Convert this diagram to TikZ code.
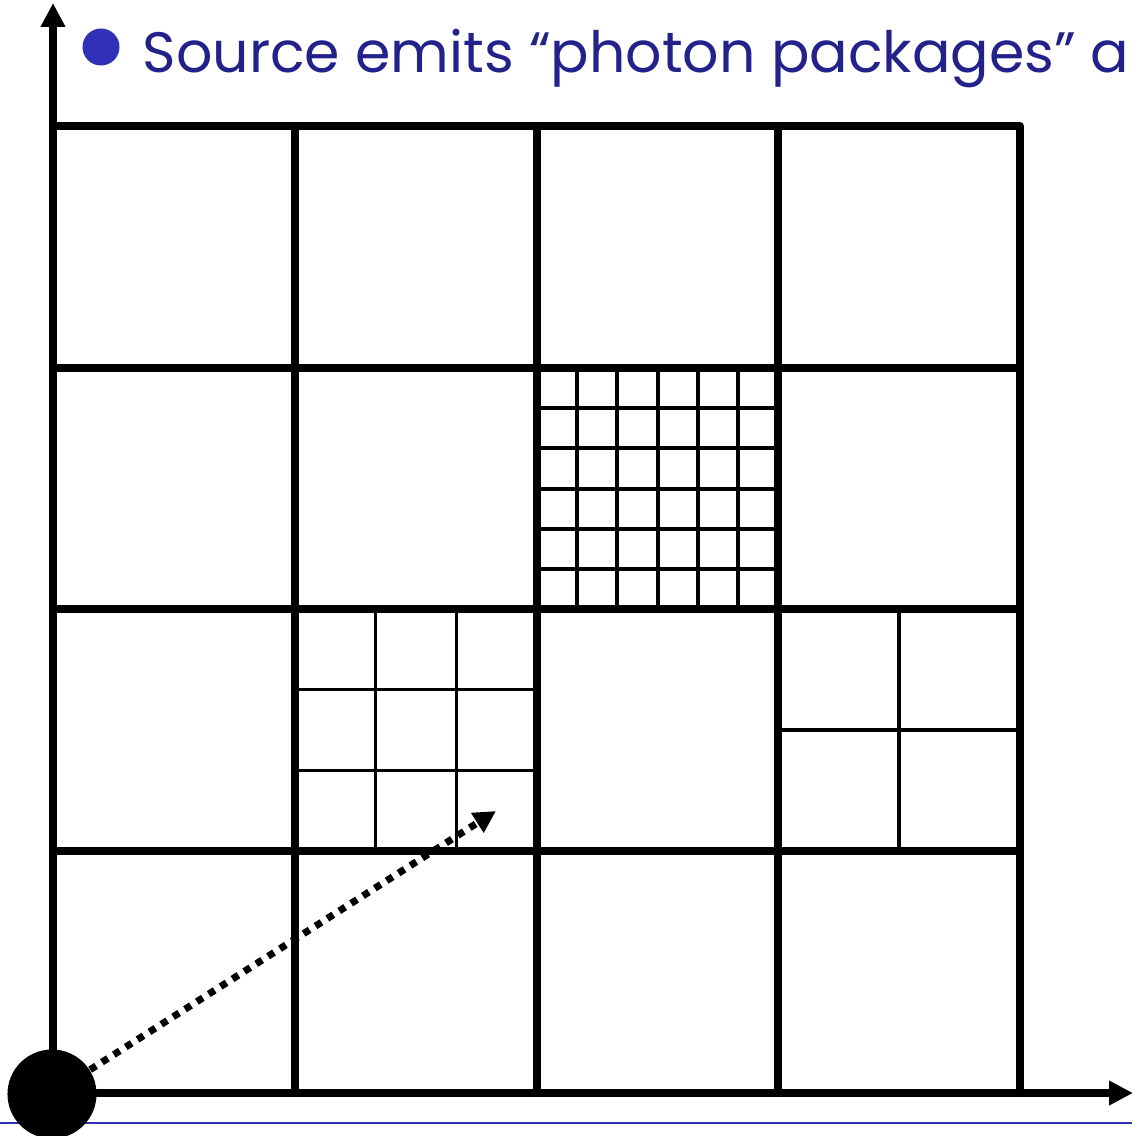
\documentclass[tikz,border=0pt]{standalone}
\usepackage{fontspec}
\setmainfont{Poppins}
\usetikzlibrary{arrows.meta,positioning}
\definecolor{TitleBlue}{RGB}{34,34,138}
\definecolor{BulletBlue}{RGB}{48,48,184}
\definecolor{RuleBlue}{RGB}{48,48,176}

\begin{document}
\begin{tikzpicture}[x=0.01cm,y=-0.01cm,
  coarse/.style={line width=2.2pt,line join=round},
  medium/.style={line width=1.1pt},
  finer/.style={line width=1.0pt},
  axis/.style={line width=2.2pt,-{Triangle[length=6.8pt,width=6.6pt]}},
  ray/.style={line width=2pt,dash pattern=on 2pt off 2pt,
              -{Triangle[length=6.3pt,width=6.3pt]}},
  bullet/.style={circle,fill=BulletBlue,minimum size=0.37cm,inner sep=0pt},
  title/.style={text=TitleBlue,font=\fontsize{16.2}{19}\selectfont,inner sep=0pt}]
\useasboundingbox (0,0) rectangle (1132,1136);
\clip (0,0) rectangle (1132,1136);

% heading
\node[bullet] (dot) at (101,47) {};
\node[title,anchor=base west] (head) at (142,72) {Source emits “photon packages” a};

% rule at the bottom
\coordinate (ruleL) at (0,1123);
\coordinate (ruleR) at (1132,1123);
\draw[RuleBlue,line width=0.7pt] (ruleL) -- (ruleR);

% refinement inside the cells
\foreach \k in {1,...,5} {
  \draw[medium] (537+40.2*\k,368) -- (537+40.2*\k,609);
  \draw[medium] (537,368+40.2*\k) -- (778,368+40.2*\k);
}
\foreach \k in {1,2} {
  \draw[finer] (295+80.7*\k,609) -- (295+80.7*\k,851);
  \draw[finer] (295,609+80.7*\k) -- (537,609+80.7*\k);
}
\draw[finer] (899,609) -- (899,851);
\draw[finer] (778,730) -- (1020,730);

% coarse grid
\draw[coarse] (53,1093) rectangle (1020,126);
\foreach \x in {295,537,778} \draw[coarse] (\x,126) -- (\x,1093);
\foreach \y in {368,609,851} \draw[coarse] (53,\y) -- (1020,\y);

% axes
\coordinate (O) at (53,1093);
\coordinate (ytip) at (53,3);
\coordinate (xtip) at (1133,1093);
\draw[axis] (O) -- (ytip);
\draw[axis] (O) -- (xtip);

% source and photon package
\node[circle,fill=black,minimum size=0.89cm,inner sep=0pt] (src) at (52,1094) {};
\coordinate (hit) at (496,811);
\draw[ray] (src) -- (hit);
\end{tikzpicture}
\end{document}
